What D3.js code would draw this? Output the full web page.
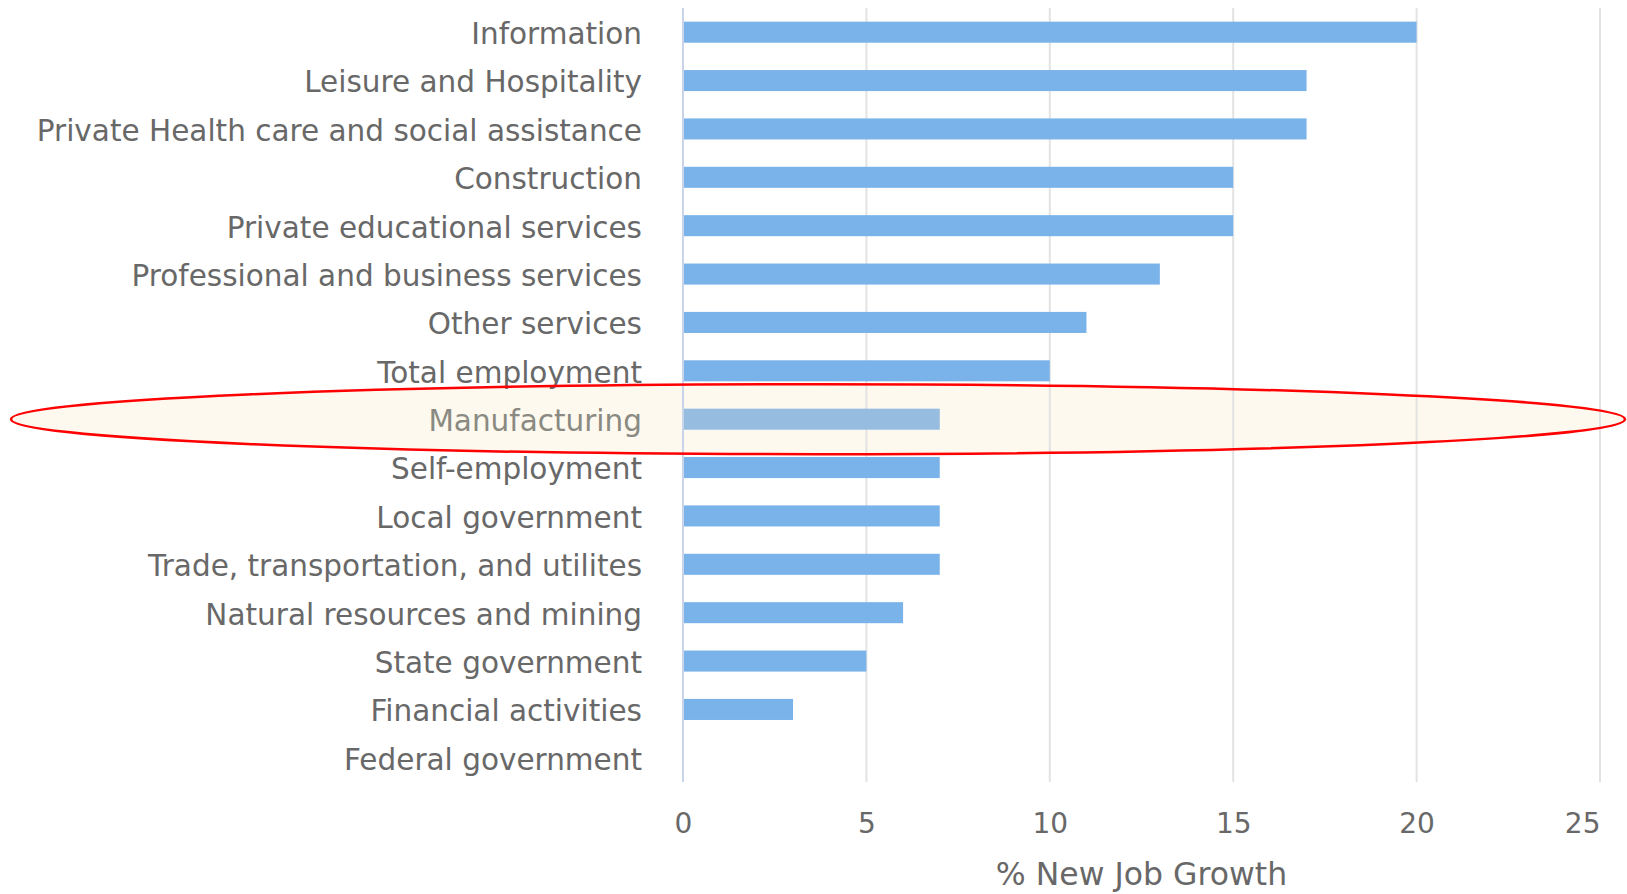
<!DOCTYPE html>
<html>
<head>
<meta charset="utf-8">
<script src="https://cdn.jsdelivr.net/npm/d3@7"></script>
<style>
  body { margin: 0; background: #fff; }
  svg text { font-family: "DejaVu Sans", sans-serif; }
</style>
</head>
<body>
<div class="container"></div>
<script>
// Data
const sectors = [
  "Information",
  "Leisure and Hospitality",
  "Private Health care and social assistance",
  "Construction",
  "Private educational services",
  "Professional and business services",
  "Other services",
  "Total employment",
  "Manufacturing",
  "Self-employment",
  "Local government",
  "Trade, transportation, and utilites",
  "Natural resources and mining",
  "State government",
  "Financial activities",
  "Federal government"
];
const growth = [20, 17, 17, 15, 15, 13, 11, 10, 7, 7, 7, 7, 6, 5, 3, 0];
const xTicks = [0, 5, 10, 15, 20, 25];
const highlighted = "Manufacturing";
const axisTitle = "% New Job Growth";

const dataset = sectors.map((s, i) => ({sector: s, value: growth[i]}));

// Dimensions
const w = 1627;
const h = 894;
const plotLeft = 683, plotRight = 1600, plotTop = 8, plotBottom = 782;

const xScale = d3.scaleLinear()
       .domain([0, 25])
       .range([plotLeft, plotRight]);

const yScale = d3.scaleBand()
       .domain(sectors)
       .range([plotTop, plotBottom])
       .paddingInner(0.565)
       .paddingOuter(0.2825);

const svg = d3.select(".container")
       .append("svg")
       .attr("width", w)
       .attr("height", h);

// highlight ellipse fill (behind everything)
const hy = yScale(highlighted) + yScale.bandwidth() / 2;
svg.append("ellipse")
   .attr("cx", 818)
   .attr("cy", hy)
   .attr("rx", 807)
   .attr("ry", 35)
   .attr("fill", "#fdf9ee");

// gridlines
svg.append("g")
   .selectAll("line")
   .data(xTicks)
   .enter()
   .append("line")
   .attr("x1", d => xScale(d))
   .attr("x2", d => xScale(d))
   .attr("y1", plotTop)
   .attr("y2", plotBottom)
   .attr("stroke", d => d === 0 ? "#c9d3ea" : "#e3e3e3")
   .attr("stroke-width", 2);

// bars
svg.selectAll("rect.bar")
   .data(dataset)
   .enter()
   .append("rect")
   .attr("class", "bar")
   .attr("x", xScale(0) + 1)
   .attr("y", d => yScale(d.sector))
   .attr("width", d => Math.max(0, xScale(d.value) - xScale(0) - 1))
   .attr("height", yScale.bandwidth())
   .attr("fill", d => d.sector === highlighted ? "#96bce0" : "#7ab3e9");

// category labels
const yAxis = d3.axisLeft(yScale).tickSize(0).tickPadding(0);
const yAxisGroup = svg.append("g")
   .attr("transform", `translate(642,0)`)
   .call(yAxis);
yAxisGroup.select(".domain").remove();
yAxisGroup.selectAll("text")
   .attr("dy", "0.4em")
   .style("font-size", "29.5px")
   .attr("fill", d => d === highlighted ? "#8a8a82" : "#686868");

// x axis
const xAxis = d3.axisBottom(xScale).tickValues(xTicks).tickSize(0).tickPadding(0);
const xAxisGroup = svg.append("g")
   .attr("transform", `translate(0,${plotBottom})`)
   .call(xAxis);
xAxisGroup.select(".domain").remove();
xAxisGroup.selectAll("text")
   .attr("y", 51)
   .attr("dy", 0)
   .style("font-size", "28px")
   .attr("fill", "#686868")
   .attr("text-anchor", d => d === 25 ? "end" : "middle");

// axis title
svg.append("text")
   .attr("x", (plotLeft + plotRight) / 2)
   .attr("y", 885)
   .style("font-size", "31.5px")
   .style("text-anchor", "middle")
   .attr("fill", "#686868")
   .text(axisTitle);

// highlight ellipse outline on top
svg.append("ellipse")
   .attr("cx", 818)
   .attr("cy", hy)
   .attr("rx", 807)
   .attr("ry", 35)
   .attr("fill", "none")
   .attr("stroke", "#ff0000")
   .attr("stroke-width", 2.5);
</script>
</body>
</html>
